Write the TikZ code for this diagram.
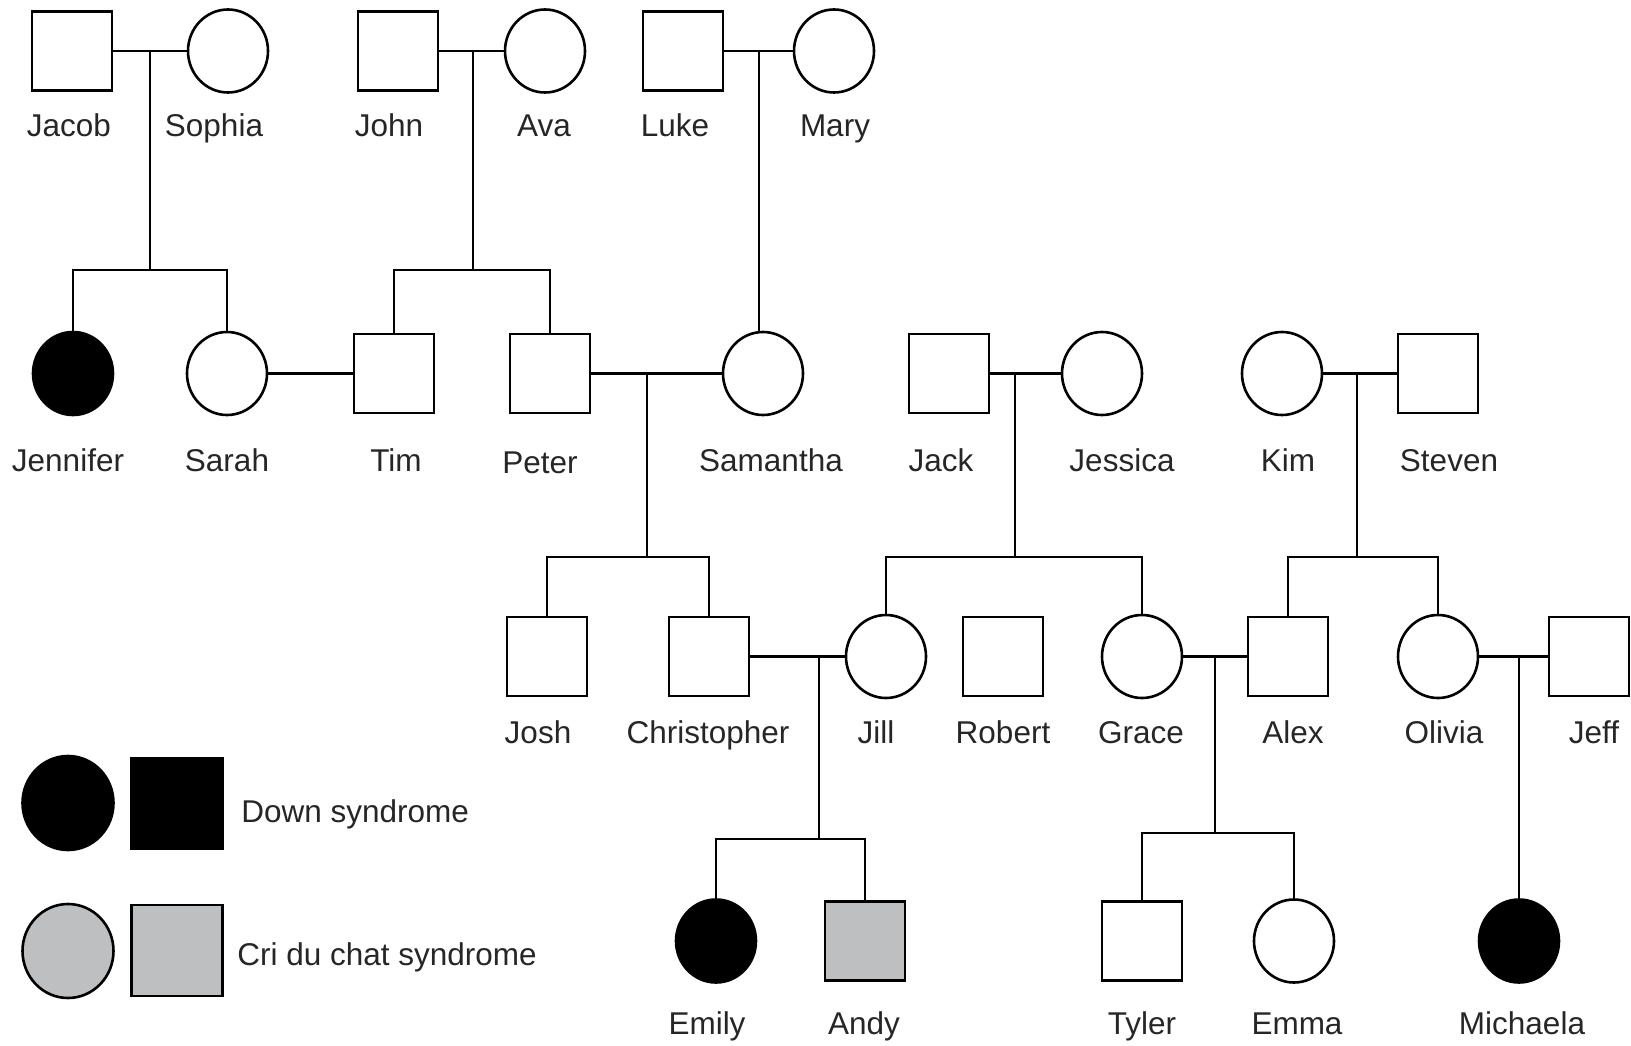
\documentclass[tikz,border=0pt]{standalone}
\usepackage{fontspec}
\setmainfont{Liberation Sans}
\usetikzlibrary{shapes.geometric}
\definecolor{cdcgray}{RGB}{190,191,193}

\begin{document}
\begin{tikzpicture}[x=1pt, y=-1pt, line width=2.6pt,
  male/.style={draw, rectangle, minimum width=80pt, minimum height=79pt, inner sep=0pt},
  female/.style={draw, ellipse, minimum width=80pt, minimum height=83pt, inner sep=0pt},
  down/.style={fill=black},
  cdc/.style={fill=cdcgray},
  who/.style={anchor=base, inner sep=0pt, text=black!85, font=\fontsize{31.5}{36}\selectfont}]
\useasboundingbox (0,0) rectangle (1631,1046);

% grandparents
\node[male] (jacob) at (72,51) {};
\node[female] (sophia) at (228,51) {};
\node[male] (john) at (398,51) {};
\node[female] (ava) at (545,51) {};
\node[male] (luke) at (683,51) {};
\node[female] (mary) at (834,51) {};

\node[who] (jacobl) at (69,137) {Jacob};
\node[who] (sophial) at (214,137) {Sophia};
\node[who] (johnl) at (389,137) {John};
\node[who] (aval) at (544,137) {Ava};
\node[who] (lukel) at (675,137) {Luke};
\node[who] (maryl) at (835,137) {Mary};

% parents
\node[female, down] (jennifer) at (73,373.5) {};
\node[female] (sarah) at (227,373.5) {};
\node[male] (tim) at (394,373.5) {};
\node[male] (peter) at (550,373.5) {};
\node[female] (samantha) at (763,373.5) {};
\node[male] (jack) at (949,373.5) {};
\node[female] (jessica) at (1102,373.5) {};
\node[female] (kim) at (1282,373.5) {};
\node[male] (steven) at (1438,373.5) {};

\node[who] (jenniferl) at (68,471) {Jennifer};
\node[who] (sarahl) at (227,471) {Sarah};
\node[who] (timl) at (396,471) {Tim};
\node[who] (peterl) at (540,473) {Peter};
\node[who] (samanthal) at (771,471) {Samantha};
\node[who] (jackl) at (941,471) {Jack};
\node[who] (jessical) at (1122,471) {Jessica};
\node[who] (kiml) at (1288,471) {Kim};
\node[who] (stevenl) at (1449,471) {Steven};

% children
\node[male] (josh) at (547,656.5) {};
\node[male] (christopher) at (709,656.5) {};
\node[female] (jill) at (886,656.5) {};
\node[male] (robert) at (1003,656.5) {};
\node[female] (grace) at (1142,656.5) {};
\node[male] (alex) at (1288,656.5) {};
\node[female] (olivia) at (1438,656.5) {};
\node[male] (jeff) at (1589,656.5) {};

\node[who] (joshl) at (538,743) {Josh};
\node[who] (christopherl) at (708,743) {Christopher};
\node[who] (jilll) at (876,743) {Jill};
\node[who] (robertl) at (1003,743) {Robert};
\node[who] (gracel) at (1141,743) {Grace};
\node[who] (alexl) at (1293,743) {Alex};
\node[who] (olivial) at (1444,743) {Olivia};
\node[who] (jeffl) at (1594,743) {Jeff};

% grandchildren
\node[female, down] (emily) at (716,941) {};
\node[male, cdc] (andy) at (865,941) {};
\node[male] (tyler) at (1142,941) {};
\node[female] (emma) at (1294,941) {};
\node[female, down] (michaela) at (1519,941) {};

\node[who] (emilyl) at (707,1034) {Emily};
\node[who] (andyl) at (864,1034) {Andy};
\node[who] (tylerl) at (1142,1034) {Tyler};
\node[who] (emmal) at (1297,1034) {Emma};
\node[who] (michaelal) at (1522,1034) {Michaela};

% matings and descent
\coordinate (m1) at (150,51);
\coordinate (s1) at (150,270);
\draw (jacob) -- (sophia);
\draw (m1) -- (s1);
\draw (jennifer.north) |- (s1) -| (sarah.north);

\coordinate (m2) at (473,51);
\coordinate (s2) at (473,270);
\draw (john) -- (ava);
\draw (m2) -- (s2);
\draw (tim.north) |- (s2) -| (peter.north);

\coordinate (m3) at (759,51);
\draw (luke) -- (mary);
\draw (m3) -- (m3 |- samantha.north);

\draw (sarah) -- (tim);

\coordinate (m4) at (647,373.5);
\coordinate (s4) at (647,557);
\draw (peter) -- (samantha);
\draw (m4) -- (s4);
\draw (josh.north) |- (s4) -| (christopher.north);

\coordinate (m5) at (1015,373.5);
\coordinate (s5) at (1015,557);
\draw (jack) -- (jessica);
\draw (m5) -- (s5);
\draw (jill.north) |- (s5) -| (grace.north);

\coordinate (m6) at (1357,373.5);
\coordinate (s6) at (1357,557);
\draw (kim) -- (steven);
\draw (m6) -- (s6);
\draw (alex.north) |- (s6) -| (olivia.north);

\coordinate (m7) at (819,656.5);
\coordinate (s7) at (819,839);
\draw (christopher) -- (jill);
\draw (m7) -- (s7);
\draw (emily.north) |- (s7) -| (andy.north);

\coordinate (m8) at (1215,656.5);
\coordinate (s8) at (1215,833);
\draw (grace) -- (alex);
\draw (m8) -- (s8);
\draw (tyler.north) |- (s8) -| (emma.north);

\coordinate (m9) at (1519,656.5);
\draw (olivia) -- (jeff);
\draw (m9) -- (michaela.north);

% legend
\node[female, down, minimum width=91pt, minimum height=94pt] (downf) at (68,803) {};
\node[male, down, minimum width=91pt, minimum height=91pt] (downm) at (177,803.5) {};
\node[female, cdc, minimum width=91pt, minimum height=94pt] (cdcf) at (68,951) {};
\node[male, cdc, minimum width=91pt, minimum height=91pt] (cdcm) at (177,950.5) {};
\node[who, anchor=base west] (downl) at (240,822) {Down syndrome};
\node[who, anchor=base west] (cdcl) at (236,965) {Cri du chat syndrome};
\end{tikzpicture}
\end{document}
